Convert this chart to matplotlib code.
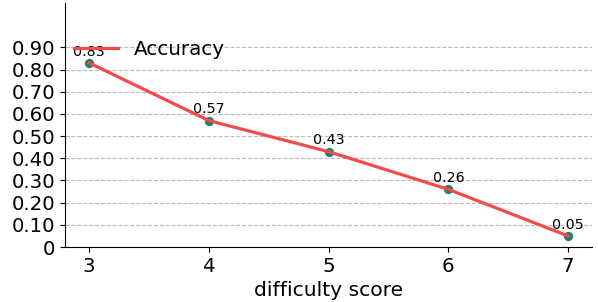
import matplotlib
matplotlib.use("Agg")
import matplotlib.pyplot as plt

difficulty = [3, 4, 5, 6, 7]
accuracy = [0.83, 0.57, 0.43, 0.26, 0.05]
yticks = [0.0, 0.1, 0.2, 0.3, 0.4, 0.5, 0.6, 0.7, 0.8, 0.9]
ytick_labels = ["0"] + [f"{t:.2f}" for t in yticks[1:]]

fig = plt.figure(figsize=(5.98, 3.02), dpi=100)
ax = fig.add_axes([0.109, 0.182, 0.881, 0.808])

ax.scatter(difficulty, accuracy, s=32, color="#21806f", zorder=3)
ax.plot(difficulty, accuracy, color="#f44a4a", linewidth=2.3, label="Accuracy", zorder=4)
for x, y in zip(difficulty, accuracy):
    ax.annotate(f"{y:.2f}", (x, y), xytext=(0, 3), textcoords="offset points",
                ha="center", va="bottom", fontsize=10.3)

ax.set_xlim(2.8, 7.2)
ax.set_ylim(0, 1.1)
ax.set_xticks(difficulty)
ax.set_yticks(yticks)
ax.set_yticklabels(ytick_labels)
ax.tick_params(labelsize=14.2)
ax.set_xlabel("difficulty score", fontsize=14.6)
ax.yaxis.grid(True, linestyle="--", color="#bbbbbb", linewidth=0.8)
ax.set_axisbelow(True)
ax.spines["top"].set_visible(False)
ax.spines["right"].set_visible(False)
ax.legend(loc="upper left", bbox_to_anchor=(-0.017, 0.923), frameon=False, fontsize=14.3,
          handlelength=2.2)

fig.savefig("out.png", dpi=100)
